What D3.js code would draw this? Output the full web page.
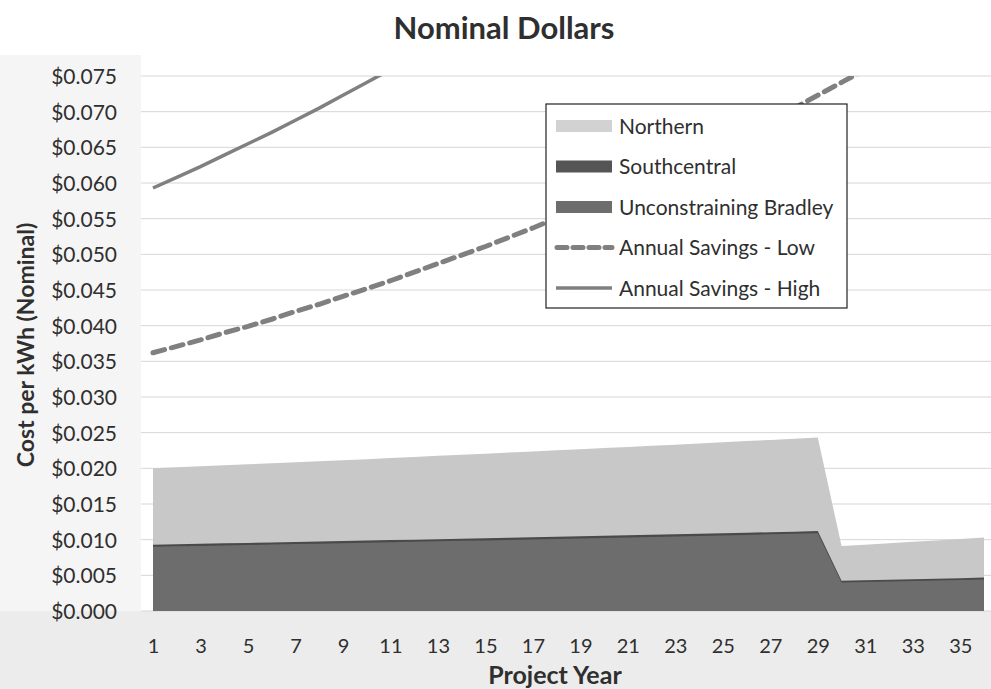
<!DOCTYPE html>
<html>
<head>
<meta charset="utf-8">
<script src="https://cdn.jsdelivr.net/npm/d3@7"></script>
<style>
  body { margin: 0; background: #fff; }
  svg text { font-family: Lato, "Open Sans", sans-serif; fill: #2f2f2f; }
</style>
</head>
<body>
<div id="chart-container"></div>
<script>
// project years 1..36
const years = d3.range(1, 37);
const xTickYears = [1, 3, 5, 7, 9, 11, 13, 15, 17, 19, 21, 23, 25, 27, 29, 31, 33, 35];
const yTickValues = [0, 0.005, 0.01, 0.015, 0.02, 0.025, 0.03, 0.035, 0.04, 0.045, 0.05, 0.055, 0.06, 0.065, 0.07, 0.075];

// areas
const northern = [0.0200, 0.02014, 0.02028, 0.02042, 0.02056, 0.02071, 0.02085, 0.02100, 0.02115, 0.02129,
  0.02144, 0.02159, 0.02175, 0.02190, 0.02205, 0.02221, 0.02236, 0.02252, 0.02268, 0.02284,
  0.02300, 0.02316, 0.02332, 0.02349, 0.02365, 0.02382, 0.02398, 0.02415, 0.02432,
  0.0091, 0.0093, 0.0095, 0.0097, 0.0099, 0.0101, 0.0103];
const southcentral = [0.0093, 0.00936, 0.00942, 0.00949, 0.00955, 0.00961, 0.00968, 0.00974, 0.00981, 0.00987,
  0.00994, 0.01000, 0.01007, 0.01014, 0.01020, 0.01027, 0.01034, 0.01041, 0.01048, 0.01055,
  0.01062, 0.01069, 0.01076, 0.01083, 0.01090, 0.01097, 0.01105, 0.01112, 0.01120,
  0.00425, 0.00432, 0.00439, 0.00446, 0.00453, 0.00460, 0.00468];
const bradley = [0.0090, 0.00906, 0.00912, 0.00919, 0.00925, 0.00931, 0.00938, 0.00944, 0.00951, 0.00957,
  0.00964, 0.00970, 0.00977, 0.00984, 0.00990, 0.00997, 0.01004, 0.01011, 0.01018, 0.01025,
  0.01032, 0.01039, 0.01046, 0.01053, 0.01060, 0.01067, 0.01075, 0.01082, 0.01090,
  0.00400, 0.00407, 0.00414, 0.00421, 0.00428, 0.00435, 0.00443];

// savings lines (only the visible part, clipped at the top of the axis)
const savingsLow = [0.0362, 0.0371, 0.0380, 0.0390, 0.0399, 0.0409, 0.0420, 0.0430, 0.0441, 0.0452,
  0.0463, 0.0475, 0.0487, 0.0499, 0.0511, 0.0524, 0.0537, 0.0551, 0.0564, 0.0579,
  0.0593, 0.0608, 0.0623, 0.0639, 0.0655, 0.0671, 0.0688, 0.0705, 0.0723, 0.0741, 0.0759];
const savingsHigh = [0.0593, 0.0608, 0.0623, 0.0639, 0.0655, 0.0671, 0.0688, 0.0705, 0.0723, 0.0741, 0.0759];

const W = 991, H = 689;
const plot = { left: 141, right: 991, top: 76, bottom: 611 };

const svg = d3.select("#chart-container").append("svg")
  .attr("width", W).attr("height", H);

// scan-ish background bands
svg.append("rect").attr("x", 0).attr("y", plot.bottom).attr("width", W).attr("height", H - plot.bottom)
  .attr("fill", "#ececec");
svg.append("rect").attr("x", 0).attr("y", 55).attr("width", plot.left).attr("height", plot.bottom - 55)
  .attr("fill", "#f5f5f5");

const x = d3.scaleLinear().domain([1, 36]).range([153, 984]);
const y = d3.scaleLinear().domain([0, 0.075]).range([plot.bottom, plot.top]);

// gridlines
svg.append("g")
  .selectAll("line")
  .data(yTickValues)
  .join("line")
  .attr("x1", plot.left).attr("x2", plot.right)
  .attr("y1", d => y(d)).attr("y2", d => y(d))
  .attr("stroke", "#d6d6d6").attr("stroke-width", 1);

const area = vals => d3.area()
  .x((d, i) => x(years[i]))
  .y0(y(0))
  .y1(d => y(d))(vals);

svg.append("path").attr("d", area(northern)).attr("fill", "#c8c8c8");
svg.append("path").attr("d", area(southcentral)).attr("fill", "#4a4a4a");
svg.append("path").attr("d", area(bradley)).attr("fill", "#6d6d6d");

// clip for lines
svg.append("clipPath").attr("id", "plotClip")
  .append("rect").attr("x", plot.left).attr("y", plot.top)
  .attr("width", plot.right - plot.left).attr("height", plot.bottom - plot.top);

const line = d3.line().x((d, i) => x(years[i])).y(d => y(d));

svg.append("path").attr("d", line(savingsLow))
  .attr("clip-path", "url(#plotClip)")
  .attr("fill", "none").attr("stroke", "#808080").attr("stroke-width", 5)
  .attr("stroke-dasharray", "12,7").attr("stroke-linecap", "round");

svg.append("path").attr("d", line(savingsHigh))
  .attr("clip-path", "url(#plotClip)")
  .attr("fill", "none").attr("stroke", "#808080").attr("stroke-width", 3.5);

// axes
const yAxis = svg.append("g")
  .attr("transform", "translate(117,0)")
  .call(d3.axisLeft(y).tickValues(yTickValues).tickFormat(d3.format("$.3f")).tickSize(0).tickPadding(0));
yAxis.select(".domain").remove();
yAxis.selectAll("text").style("font-size", "21px").attr("dy", "0.35em");

const xAxis = svg.append("g")
  .attr("transform", `translate(0,${plot.bottom})`)
  .call(d3.axisBottom(x).tickValues(xTickYears).tickFormat(d3.format("d")).tickSize(0).tickPadding(0));
xAxis.select(".domain").remove();
xAxis.selectAll("text").style("font-size", "20px").attr("y", 42).attr("dy", 0);

// titles
svg.append("text").text("Nominal Dollars")
  .attr("x", 504).attr("y", 39).attr("text-anchor", "middle")
  .style("font-size", "31px").style("font-weight", "bold");

svg.append("text").text("Project Year")
  .attr("x", 555).attr("y", 684).attr("text-anchor", "middle")
  .style("font-size", "25px").style("font-weight", "bold");

svg.append("text").text("Cost per kWh (Nominal)")
  .attr("transform", "translate(34,345) rotate(-90)")
  .attr("text-anchor", "middle")
  .style("font-size", "23px").style("font-weight", "bold");

// legend
const legendItems = [
  { name: "Northern", type: "area", color: "#d2d2d2" },
  { name: "Southcentral", type: "area", color: "#555555" },
  { name: "Unconstraining Bradley", type: "area", color: "#6d6d6d" },
  { name: "Annual Savings - Low", type: "dash", color: "#808080" },
  { name: "Annual Savings - High", type: "line", color: "#808080" }
];

const legend = svg.append("g");
legend.append("rect")
  .attr("x", 546).attr("y", 104).attr("width", 301).attr("height", 204)
  .attr("fill", "#fff").attr("stroke", "#222").attr("stroke-width", 1.2);

const rows = legend.selectAll("g.row")
  .data(legendItems)
  .join("g")
  .attr("class", "row")
  .attr("transform", (d, i) => `translate(0, ${126 + i * 40.5})`);

rows.filter(d => d.type === "area").append("rect")
  .attr("x", 556).attr("y", -6).attr("width", 56).attr("height", 12)
  .attr("fill", d => d.color);
rows.filter(d => d.type === "dash").append("line")
  .attr("x1", 557).attr("x2", 612).attr("y1", 0).attr("y2", 0)
  .attr("stroke", d => d.color).attr("stroke-width", 5)
  .attr("stroke-dasharray", "10,6").attr("stroke-linecap", "round");
rows.filter(d => d.type === "line").append("line")
  .attr("x1", 556).attr("x2", 612).attr("y1", 0).attr("y2", 0)
  .attr("stroke", d => d.color).attr("stroke-width", 3.5);

rows.append("text")
  .text(d => d.name)
  .attr("x", 619).attr("y", 0).attr("dy", "0.36em")
  .style("font-size", "21px");
</script>
</body>
</html>
